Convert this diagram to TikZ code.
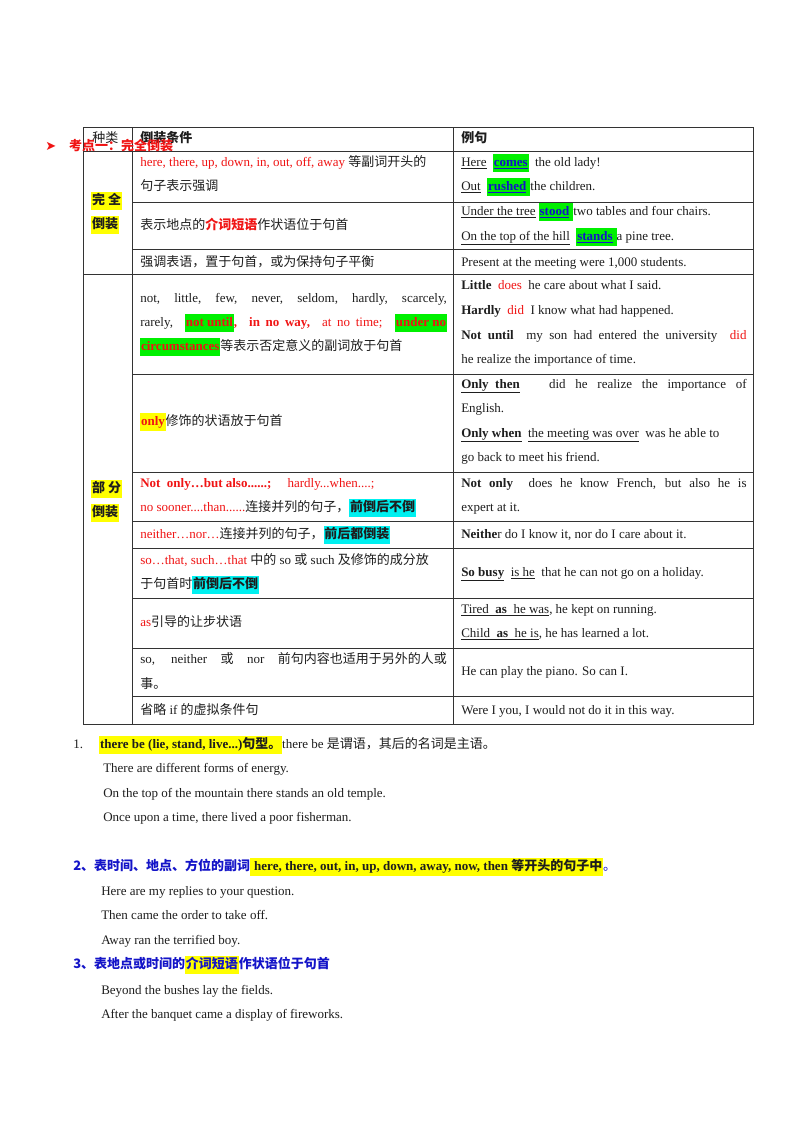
\documentclass[tikz,border=0pt]{standalone}
\usepackage{fontspec}
\setmainfont{Liberation Serif}
\newfontfamily\cjk{Noto Sans CJK SC}
\newfontfamily\djv{DejaVu Sans}
\newcommand\zh[1]{{\cjk #1}}
\newcommand\hlt[2]{{\setlength{\fboxsep}{0.6pt}\colorbox{#1}{\strut #2}}}
\definecolor{hred}{RGB}{240,20,20}
\definecolor{hgreen}{RGB}{0,240,0}
\definecolor{hcyan}{RGB}{0,240,240}
\definecolor{hyel}{RGB}{255,255,0}
\definecolor{hblue}{RGB}{20,20,200}
\definecolor{dk}{RGB}{30,30,30}
\begin{document}
\begin{tikzpicture}[x=0.75pt,y=-0.75pt,
  t/.style={anchor=base west,inner sep=0pt,font=\fontsize{9.75}{12}\selectfont,text=dk},
  grid/.style={draw=black!80,line width=0.6pt}]
\useasboundingbox[fill=white] (0,0) rectangle (800,1132);
% table lines
\draw[grid] (83,127) rectangle (753,724);
\draw[grid] (132,127) -- (132,724);
\draw[grid] (453,127) -- (453,724);
\foreach \y in {151,274} \draw[grid] (83,\y) -- (753,\y);
\foreach \y in {202,249,374,472,521,548,598,648,696} \draw[grid] (132,\y) -- (753,\y);
% header
\node[t] (h1) at (92,142) {\zh{种类}};
\node[t] (h2) at (140,142) {\zh{\bfseries 倒装条件}};
\node[t] (h3) at (461,142) {\zh{\bfseries 例句}};
\node[t,text=hred] (kd) at (45,150) {{\djv ➤}\quad\zh{\bfseries 考点一：完全倒装}};
% left column
\node[t] (w1) at (91,204) {\hlt{hyel}{\zh{\bfseries 完\ 全}}};
\node[t] (w2) at (91,228) {\hlt{hyel}{\zh{\bfseries 倒装}}};
\node[t] (p1) at (91,492) {\hlt{hyel}{\zh{\bfseries 部\ 分}}};
\node[t] (p2) at (91,516) {\hlt{hyel}{\zh{\bfseries 倒装}}};
% column 2
\node[t] (a1) at (140,166) {\textcolor{hred}{here, there, up, down, in, out, off, away} \zh{等副词开头的}};
\node[t] (a2) at (140,190) {\zh{句子表示强调}};
\node[t] (b1) at (140,229) {\zh{表示地点的\textcolor{hred}{\bfseries 介词短语}作状语位于句首}};
\node[t] (c1) at (140,266) {\zh{强调表语，置于句首，或为保持句子平衡}};
\node[t] (d1) at (140,302) {\makebox[230pt][s]{not, \ little, \ few, \ never, \ seldom, \ hardly, \ scarcely,}};
\node[t] (d2) at (140,326) {\makebox[230pt][s]{rarely, \ \hlt{hgreen}{\textcolor{hred}{\bfseries not until}}\textcolor{hred}{\bfseries, \ in no way, \ }\textcolor{hred}{at no time;} \ \hlt{hgreen}{\textcolor{hred}{\bfseries under no}}}};
\node[t] (d3) at (140,350) {\hlt{hgreen}{\textcolor{hred}{\bfseries circumstances}}\zh{等表示否定意义的副词放于句首}};
\node[t] (e1) at (140,425) {\hlt{hyel}{\textcolor{hred}{\bfseries only}}\zh{修饰的状语放于句首}};
\node[t] (f1) at (140,487) {\textcolor{hred}{\bfseries Not \ only…but also......;}\quad\ \textcolor{hred}{hardly...when....;}};
\node[t] (f2) at (140,511) {\textcolor{hred}{no sooner....than......}\zh{连接并列的句子，\hlt{hcyan}{\bfseries 前倒后不倒}}};
\node[t] (g1) at (140,538) {\textcolor{hred}{neither…nor…}\zh{连接并列的句子，\hlt{hcyan}{\bfseries 前后都倒装}}};
\node[t] (i1) at (140,564) {\textcolor{hred}{so…that, such…that} \zh{中的} so \zh{或} such \zh{及修饰的成分放}};
\node[t] (i2) at (140,588) {\zh{于句首时\hlt{hcyan}{\bfseries 前倒后不倒}}};
\node[t] (j1) at (140,626) {\textcolor{hred}{as}\zh{引导的让步状语}};
\node[t] (k1) at (140,663) {\makebox[230pt][s]{so, neither \zh{或} nor \zh{前句内容也适用于另外的人或}}};
\node[t] (k2) at (140,688) {\zh{事。}};
\node[t] (l1) at (140,714) {\zh{省略} if \zh{的虚拟条件句}};
% column 3
\node[t] (r1) at (461,166) {\underline{Here}\ \ \hlt{hgreen}{\textcolor{hblue}{\bfseries\underline{comes}}}\ \ the old lady!};
\node[t] (r2) at (461,190) {\underline{Out}\ \ \hlt{hgreen}{\textcolor{hblue}{\bfseries\underline{rushed}}\ }the children.};
\node[t] (r3) at (461,215) {\underline{Under the tree}\ \hlt{hgreen}{\textcolor{hblue}{\bfseries\underline{stood}}\ }two tables and four chairs.};
\node[t] (r4) at (461,240) {\underline{On the top of the hill}\ \ \hlt{hgreen}{\textcolor{hblue}{\bfseries\underline{stands}}\ }a pine tree.};
\node[t] (r5) at (461,266) {Present at the meeting were 1,000 students.};
\node[t] (r6) at (461,289) {\textbf{Little}\ \ \textcolor{hred}{does}\ \ he care about what I said.};
\node[t] (r7) at (461,314) {\textbf{Hardly}\ \ \textcolor{hred}{did}\ \ I know what had happened.};
\node[t] (r8) at (461,339) {\makebox[214pt][s]{\textbf{Not until}\ \ my son had entered the university\ \ \textcolor{hred}{did}}};
\node[t] (r9) at (461,363) {he realize the importance of time.};
\node[t] (r10) at (461,388) {\makebox[214pt][s]{\textbf{\underline{Only\ \ then}}\ \ \ did he realize the importance of}};
\node[t] (r11) at (461,412) {English.};
\node[t] (r12) at (461,437) {\textbf{\underline{Only when}}\ \ \underline{the meeting was over}\ \ was he able to};
\node[t] (r13) at (461,461) {go back to meet his friend.};
\node[t] (r14) at (461,487) {\makebox[214pt][s]{\textbf{Not only}\ \ does he know French, but also he is}};
\node[t] (r15) at (461,511) {expert at it.};
\node[t] (r16) at (461,538) {\textbf{Neithe}r do I know it, nor do I care about it.};
\node[t] (r17) at (461,576) {\textbf{\underline{So busy}}\ \ \underline{is he}\ \ that he can not go on a holiday.};
\node[t] (r18) at (461,613) {\underline{Tired\ \ \textbf{as}\ \ he was}, he kept on running.};
\node[t] (r19) at (461,637) {\underline{Child\ \ \textbf{as}\ \ he is}, he has learned a lot.};
\node[t] (r20) at (461,675) {He can play the piano. So can I.};
\node[t] (r21) at (461,714) {Were I you, I would not do it in this way.};
% below table
\node[t] (n1) at (73,748) {1.\quad\ \hlt{hyel}{\textbf{there be (lie, stand, live...)}\zh{\bfseries 句型。}}there be \zh{是谓语，其后的名词是主语。}};
\node[t] (n2) at (103,772) {There are different forms of energy.};
\node[t] (n3) at (103,797) {On the top of the mountain there stands an old temple.};
\node[t] (n4) at (103,821) {Once upon a time, there lived a poor fisherman.};
\node[t,text=hblue] (m1) at (73,870) {\zh{\bfseries 2、表时间、地点、方位的副词}\hlt{hyel}{\textcolor{dk}{\ \textbf{here, there, out, in, up, down, away, now, then} \zh{\bfseries 等开头的句子中}}}\zh{。}};
\node[t] (m2) at (101,895) {Here are my replies to your question.};
\node[t] (m3) at (101,919) {Then came the order to take off.};
\node[t] (m4) at (101,944) {Away ran the terrified boy.};
\node[t,text=hblue] (q1) at (73,968) {\zh{\bfseries 3、表地点或时间的\hlt{hyel}{介词短语}作状语位于句首}};
\node[t] (q2) at (101,994) {Beyond the bushes lay the fields.};
\node[t] (q3) at (101,1018) {After the banquet came a display of fireworks.};
\end{tikzpicture}
\end{document}
